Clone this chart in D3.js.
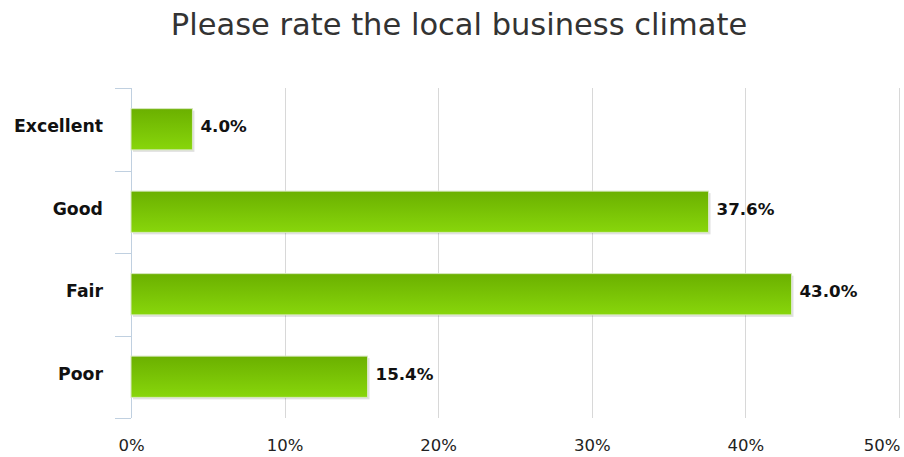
<!DOCTYPE html>
<html><head><meta charset="utf-8">
<script src="https://cdn.jsdelivr.net/npm/d3@7"></script>
<style>body{margin:0;background:#fff}svg{display:block}</style>
</head><body>
<script>
const categories = ["Excellent", "Good", "Fair", "Poor"];
const values = [4.0, 37.6, 43.0, 15.4];
const tickValues = [0, 10, 20, 30, 40, 50];

const W = 904, H = 457;
const margin = {left: 131, right: 5, top: 88, bottom: 39};
const svg = d3.select("body").append("svg").attr("width", W).attr("height", H);
const defs = svg.append("defs");
const grad = defs.append("linearGradient").attr("id", "g").attr("x1", 0).attr("y1", 0).attr("x2", 0).attr("y2", 1);
grad.append("stop").attr("offset", "0%").attr("stop-color", "#6bb000");
grad.append("stop").attr("offset", "100%").attr("stop-color", "#88d60b");

const x = d3.scaleLinear().domain([0, 50]).range([margin.left, W - margin.right]);
const y = d3.scaleBand().domain(categories).range([margin.top, H - margin.bottom]).paddingInner(0.5).paddingOuter(0.25);

svg.append("text").attr("x", 459).attr("y", 35).attr("text-anchor", "middle")
  .attr("font-family", "DejaVu Sans").attr("font-size", 30.5).attr("fill", "#333")
  .text("Please rate the local business climate");

// gridlines
svg.append("g").selectAll("line").data(tickValues.slice(1)).join("line")
  .attr("x1", d => Math.round(x(d)) + 0.5).attr("x2", d => Math.round(x(d)) + 0.5)
  .attr("y1", margin.top).attr("y2", H - margin.bottom)
  .attr("stroke", "#d8d8d8").attr("stroke-width", 1);

// left axis
const band = (H - margin.bottom - margin.top) / categories.length;
const ya = svg.append("g");
ya.append("line").attr("x1", margin.left + 0.5).attr("x2", margin.left + 0.5)
  .attr("y1", margin.top).attr("y2", H - margin.bottom).attr("stroke", "#c0d0e0");
ya.selectAll("line.t").data(d3.range(categories.length + 1)).join("line").attr("class", "t")
  .attr("x1", margin.left - 16).attr("x2", margin.left)
  .attr("y1", i => Math.round(margin.top + i * band) + 0.5).attr("y2", i => Math.round(margin.top + i * band) + 0.5)
  .attr("stroke", "#c0d0e0");

// bottom axis labels
const xAxis = d3.axisBottom(x).tickValues(tickValues).tickFormat(d => d + "%").tickSize(0);
const gx = svg.append("g").attr("transform", `translate(0,${H - margin.bottom})`).call(xAxis);
gx.select(".domain").remove();
gx.selectAll("text").attr("font-family", "DejaVu Sans").attr("font-size", 16.5).attr("fill", "#222")
  .attr("y", 33).attr("dy", 0)
  .each(function(d) {
    if (d === tickValues[tickValues.length - 1]) {
      d3.select(this).attr("text-anchor", "end").attr("x", -(x(d) - (W - 4)));
    }
  });

// category labels
svg.append("g").selectAll("text").data(categories).join("text")
  .attr("x", 103).attr("y", d => y(d) + y.bandwidth() / 2 + 3)
  .attr("text-anchor", "end").attr("font-family", "DejaVu Sans").attr("font-weight", "bold")
  .attr("font-size", 17.3).attr("fill", "#111").text(d => d);

// bars
const data = categories.map((c, i) => ({c, v: values[i]}));
svg.append("g").selectAll("rect").data(data).join("rect")
  .attr("x", x(0) + 2).attr("y", d => y(d.c) + 2)
  .attr("width", d => x(d.v) - x(0)).attr("height", y.bandwidth())
  .attr("fill", "#000").attr("opacity", 0.12);
svg.append("g").selectAll("rect").data(data).join("rect")
  .attr("x", x(0)).attr("y", d => y(d.c))
  .attr("width", d => x(d.v) - x(0)).attr("height", y.bandwidth())
  .attr("fill", "url(#g)").attr("stroke", "#d8e8c0").attr("stroke-width", 1);

svg.append("g").selectAll("text").data(data).join("text")
  .attr("x", d => x(d.v) + 8).attr("y", d => y(d.c) + y.bandwidth() / 2 + 3)
  .attr("font-family", "DejaVu Sans").attr("font-weight", "bold").attr("font-size", 16.7).attr("fill", "#111")
  .text(d => d.v.toFixed(1) + "%");
</script>
</body></html>
